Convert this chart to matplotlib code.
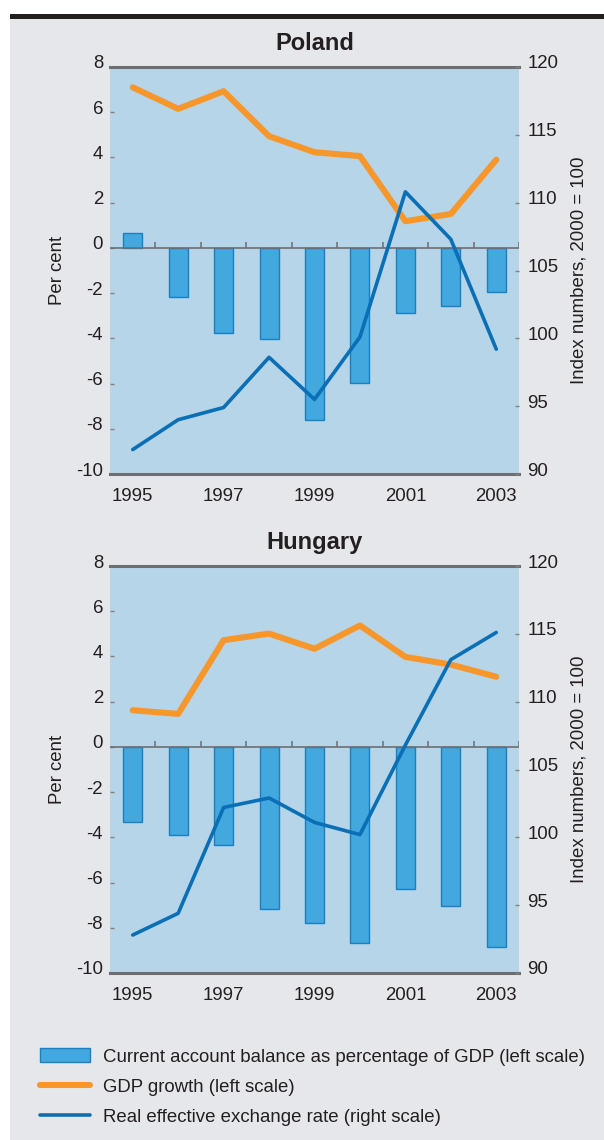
import numpy as np
import matplotlib
matplotlib.use("Agg")
import matplotlib.pyplot as plt
from matplotlib.patches import Rectangle, Patch
from matplotlib.lines import Line2D
from matplotlib.transforms import ScaledTranslation

plt.rcParams['font.family'] = ['Liberation Sans', 'DejaVu Sans']

# ---------------- data ----------------
years = ['1995', '1996', '1997', '1998', '1999', '2000', '2001', '2002', '2003']
xtick_labels = ['1995', '1997', '1999', '2001', '2003']
left_ticks = [-10, -8, -6, -4, -2, 0, 2, 4, 6, 8]
right_ticks = [90, 95, 100, 105, 110, 115, 120]

poland_ca = [0.65, -2.15, -3.78, -4.05, -7.6, -5.97, -2.88, -2.58, -1.96]
poland_gdp = [7.1, 6.15, 6.93, 4.94, 4.23, 4.06, 1.18, 1.5, 3.9]
poland_reer = [91.8, 94.0, 94.9, 98.6, 95.5, 100.1, 110.8, 107.3, 99.2]

hungary_ca = [-3.33, -3.88, -4.35, -7.17, -7.79, -8.67, -6.27, -7.05, -8.86]
hungary_gdp = [1.62, 1.46, 4.72, 5.01, 4.34, 5.37, 3.98, 3.64, 3.10]
hungary_reer = [92.8, 94.4, 102.2, 102.9, 101.1, 100.2, 106.8, 113.1, 115.1]

legend_labels = ['Current account balance as percentage of GDP (left scale)',
                 'GDP growth (left scale)',
                 'Real effective exchange rate (right scale)']

# ---------------- style ----------------
W, H = 604, 1140
BG = '#e6e7eb'
PLOT_BG = '#b6d5e9'
BAR = '#42a8de'
BAR_EDGE = '#1c7fc0'
ORANGE = '#f7962b'
BLUE = '#0a6fb5'
GREY = '#6d6e71'
TXT = '#231f20'
FS = 13.4

fig = plt.figure(figsize=(W / 100, H / 100), dpi=100)
fig.patch.set_facecolor('white')
fig.patches.append(Rectangle((10 / W, 0), (W - 10) / W, (H - 19) / H,
                             transform=fig.transFigure, facecolor=BG,
                             edgecolor='none', zorder=-10))
fig.patches.append(Rectangle((10 / W, (H - 19) / H), (W - 10) / W, 5 / H,
                             transform=fig.transFigure, facecolor=TXT,
                             edgecolor='none', zorder=-10))


def panel(top_px, bottom_px, title, title_y, ca, gdp, reer):
    left_px, right_px = 110, 519
    ax = fig.add_axes([left_px / W, 1 - bottom_px / H,
                       (right_px - left_px) / W, (bottom_px - top_px) / H])
    ax.set_facecolor(PLOT_BG)
    x = np.arange(len(years))
    ax.bar(x, ca, width=0.42, color=BAR, edgecolor=BAR_EDGE, linewidth=1.0, zorder=2)
    ax.axhline(0, color=GREY, lw=1.2, zorder=2.5)
    ax.vlines(np.arange(0.5, len(years), 1), 0, 0.25, color=GREY, lw=1.1, zorder=2.5)
    ax.plot(x, gdp, color=ORANGE, lw=4.4, solid_capstyle='round',
            solid_joinstyle='round', zorder=3)
    ax.set_xlim(-0.5, len(years) - 0.5)
    ax.set_ylim(-10, 8)
    for s in ['left', 'right']:
        ax.spines[s].set_visible(False)
    for s in ['top', 'bottom']:
        ax.spines[s].set_color(GREY)
        ax.spines[s].set_linewidth(2.2)
    ax.set_xticks(np.arange(0, len(years), 2), labels=xtick_labels)
    ax.tick_params(axis='x', length=0, pad=10, labelsize=FS, labelcolor=TXT)
    ax.set_yticks(left_ticks, labels=[str(v) for v in left_ticks])
    ax.tick_params(axis='y', direction='in', length=3, width=1, color='#808285',
                   pad=5, labelsize=FS, labelcolor=TXT)
    off = ScaledTranslation(0, 5 / 100, fig.dpi_scale_trans)
    for lbl in ax.get_yticklabels():
        lbl.set_transform(lbl.get_transform() + off)

    ax2 = ax.twinx()
    ax2.plot(x, reer, color=BLUE, lw=2.6, solid_capstyle='round',
             solid_joinstyle='round', zorder=4)
    ax2.set_ylim(90, 120)
    for s in ax2.spines.values():
        s.set_visible(False)
    ax2.set_yticks(right_ticks, labels=[str(v) for v in right_ticks])
    ax2.tick_params(axis='y', direction='in', length=3, width=1, color='#808285',
                    pad=6, labelsize=FS, labelcolor=TXT)
    for lbl in ax2.get_yticklabels():
        lbl.set_transform(lbl.get_transform() + off)

    cy = 1 - (top_px + bottom_px) / 2 / H
    fig.text((left_px + right_px) / 2 / W, 1 - title_y / H, title, ha='center',
             va='center', fontsize=17, fontweight='bold', color=TXT)
    fig.text(58 / W, cy, 'Per cent', rotation=90, ha='center', va='center',
             fontsize=FS, color=TXT)
    fig.text(579 / W, cy, 'Index numbers, 2000 = 100', rotation=90, ha='center',
             va='center', fontsize=FS, color=TXT)
    return ax


panel(67, 474, 'Poland', 43, poland_ca, poland_gdp, poland_reer)
panel(566, 973, 'Hungary', 543, hungary_ca, hungary_gdp, hungary_reer)

handles = [Patch(facecolor=BAR, edgecolor=BAR_EDGE, linewidth=1.0),
           Line2D([], [], color=ORANGE, lw=4.4, solid_capstyle='round'),
           Line2D([], [], color=BLUE, lw=2.6, solid_capstyle='round')]
fig.legend(handles, legend_labels, loc='upper left',
           bbox_to_anchor=(40 / W, 1 - 1048 / H), frameon=False,
           fontsize=FS, handlelength=50 / 18.6, handleheight=15 / 18.6,
           handletextpad=13 / 18.6, labelspacing=0.68, borderpad=0,
           borderaxespad=0, labelcolor=TXT)

fig.savefig('out.png', dpi=100, facecolor=fig.get_facecolor())
